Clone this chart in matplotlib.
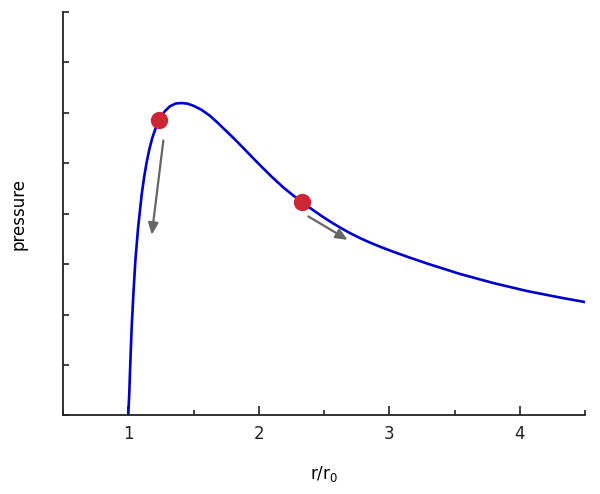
import matplotlib
matplotlib.use("Agg")
import matplotlib.pyplot as plt
from matplotlib.ticker import MultipleLocator, NullFormatter

# curve values (r/r0, pressure in tick units)
r_vals = [1.000, 1.008, 1.016, 1.026, 1.039, 1.054, 1.075, 1.103, 1.122, 1.141,
          1.162, 1.184, 1.210, 1.238, 1.280, 1.320, 1.365, 1.410, 1.455, 1.498,
          1.560, 1.626, 1.690, 1.754, 1.818, 1.882, 1.946, 2.010, 2.100, 2.188,
          2.260, 2.329, 2.444, 2.510, 2.571, 2.640, 2.699, 2.775, 2.852, 2.940,
          3.031, 3.160, 3.287, 3.542, 3.797, 4.053, 4.308, 4.500]
p_vals = [0.00, 0.45, 1.05, 1.73, 2.39, 3.05, 3.71, 4.38, 4.73, 5.02,
          5.28, 5.50, 5.695, 5.85, 6.03, 6.13, 6.184, 6.193, 6.18, 6.14,
          6.06, 5.94, 5.79, 5.63, 5.47, 5.30, 5.13, 4.96, 4.73, 4.52,
          4.37, 4.23, 4.02, 3.905, 3.805, 3.70, 3.615, 3.517, 3.427, 3.334,
          3.245, 3.126, 3.014, 2.805, 2.625, 2.468, 2.338, 2.248]

dot_r = [1.238, 2.329]
dot_p = [5.85, 4.23]

arrow_start_r = [1.269, 2.380]
arrow_start_p = [5.45, 3.945]
arrow_end_r = [1.180, 2.682]
arrow_end_p = [3.58, 3.48]

x_ticks = [1, 2, 3, 4]
x_tick_labels = ["1", "2", "3", "4"]

plt.rcParams['mathtext.default'] = 'regular'
fig = plt.figure(figsize=(6, 4.94), dpi=100)
ax = fig.add_axes([0.105, 0.159, 0.87, 0.817])

ax.plot(r_vals, p_vals, color="#0000c8", lw=1.9, solid_joinstyle="round", zorder=2)

for xs, ys, xe, ye in zip(arrow_start_r, arrow_start_p, arrow_end_r, arrow_end_p):
    ax.annotate("", xy=(xe, ye), xytext=(xs, ys),
                arrowprops=dict(arrowstyle="-|>,head_length=0.7,head_width=0.3",
                                color="#666666", lw=1.6, shrinkA=0, shrinkB=0),
                zorder=3)

ax.plot(dot_r, dot_p, "o", color="#cf2637", markersize=12.5, markeredgewidth=0, zorder=4)

ax.set_xlim(0.5, 4.5)
ax.set_ylim(0, 8)
ax.spines['top'].set_visible(False)
ax.spines['right'].set_visible(False)
for s in ('left', 'bottom'):
    ax.spines[s].set_linewidth(1.3)
    ax.spines[s].set_color("#222222")

ax.set_xticks(x_ticks)
ax.set_xticklabels(x_tick_labels)
ax.xaxis.set_minor_locator(MultipleLocator(0.5))
ax.yaxis.set_major_locator(MultipleLocator(1))
ax.yaxis.set_major_formatter(NullFormatter())
ax.tick_params(axis='x', which='major', direction='in', length=6.5, width=1.2,
               labelsize=12, pad=7, colors="#222222")
ax.tick_params(axis='x', which='minor', direction='in', length=3.5, width=1.2, colors="#222222")
ax.tick_params(axis='y', which='major', direction='in', length=4, width=1.2, colors="#222222")

ax.set_xlabel("r/r$_0$", fontsize=12, labelpad=15)
ax.set_ylabel("pressure", fontsize=12, labelpad=22)

fig.savefig("out.png", dpi=100, facecolor="white")
